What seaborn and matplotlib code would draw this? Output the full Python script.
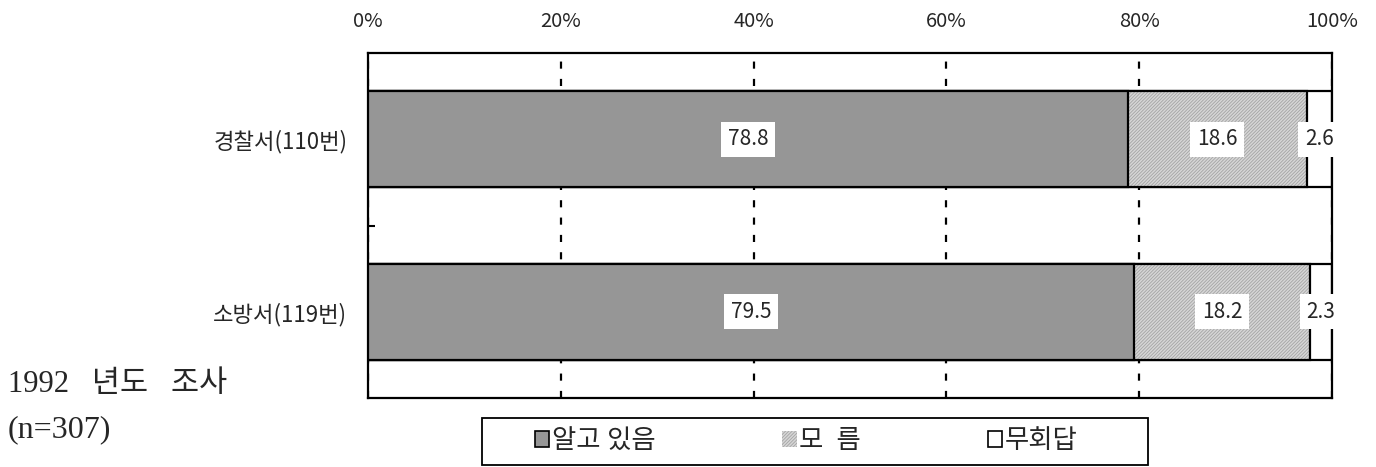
import numpy as np
import pandas as pd
import matplotlib
matplotlib.use("Agg")
import matplotlib.pyplot as plt
from matplotlib.patches import Patch, Rectangle
import seaborn as sns

# data
categories = ["경찰서(110번)", "소방서(119번)"]
know = [78.8, 79.5]
dont_know = [18.6, 18.2]
no_answer = [2.6, 2.3]
legend_labels = ["알고 있음", "모  름", "무회답"]
tick_labels = ["0%", "20%", "40%", "60%", "80%", "100%"]

sns.set_theme(style="white")
plt.rcParams["font.family"] = ["Noto Sans CJK KR", "DejaVu Sans"]
plt.rcParams["hatch.linewidth"] = 0.6

df = pd.DataFrame({"cat": categories, "know": know,
                   "dont": dont_know, "none": no_answer})
df["c1"] = df["know"]
df["c2"] = df["know"] + df["dont"]
df["c3"] = df["c2"] + df["none"]

fig = plt.figure(figsize=(13.76, 4.67), dpi=100)
ax = fig.add_axes([368 / 1376, 1 - 398 / 467, 964 / 1376, 345 / 467])

dark = "#969696"
light = "#d6d6d6"
hatch_col = "#a4a4a4"
bw = 0.555
lw = 1.6

# stacked by drawing cumulative bars back to front
sns.barplot(data=df, x="c3", y="cat", orient="h", color="white", saturation=1,
            width=bw, edgecolor="black", linewidth=lw, ax=ax, zorder=2)
sns.barplot(data=df, x="c2", y="cat", orient="h", color=light, saturation=1,
            width=bw, edgecolor=hatch_col, linewidth=0, hatch="//////////",
            ax=ax, zorder=3)
sns.barplot(data=df, x="c2", y="cat", orient="h", fill=False, color="black",
            width=bw, linewidth=lw, ax=ax, zorder=4)
sns.barplot(data=df, x="c1", y="cat", orient="h", color=dark, saturation=1,
            width=bw, edgecolor="black", linewidth=lw, ax=ax, zorder=5)

# value labels
box = dict(boxstyle="square,pad=0.32", facecolor="white", edgecolor="none")
for i, row in df.iterrows():
    segs = [(0, row["know"]), (row["c1"], row["dont"]), (row["c2"], row["none"])]
    for left, w in segs:
        ax.text(left + w / 2, i, f"{w:.1f}", ha="center", va="center",
                fontsize=15, bbox=box, zorder=10)

ax.set_xlim(0, 100)
ax.set_ylim(1.5, -0.5)
ax.set_xlabel("")
ax.set_ylabel("")

ax.xaxis.tick_top()
ax.set_xticks([0, 20, 40, 60, 80, 100])
ax.set_xticklabels(tick_labels, fontsize=14.5)
ax.tick_params(axis="x", length=0, pad=15)
ax.xaxis.grid(True, color="black", linewidth=1.6, linestyle=(0, (3.2, 4.6)))
ax.set_axisbelow(True)

ax.set_yticks([0, 1])
ax.set_yticklabels(categories, fontsize=16)
ax.tick_params(axis="y", length=0, pad=15)
ax.set_yticks([0.5], minor=True)
ax.tick_params(axis="y", which="minor", direction="in", length=5, width=1.5,
               color="black", left=True)

for s in ax.spines.values():
    s.set_visible(True)
    s.set_color("black")
    s.set_linewidth(1.6)

# side note
serif = ["Liberation Serif", "Noto Sans CJK KR"]
fig.text(8 / 1376, 1 - 385 / 467, "1992   년도   조사", family=serif,
         fontsize=22, va="center", ha="left")
fig.text(8 / 1376, 1 - 430 / 467, "(n=307)", family=serif,
         fontsize=23, va="center", ha="left")

# legend with a hand-placed frame
fig.patches.append(Rectangle((482 / 1376, 1 - 465 / 467), 666 / 1376, 47 / 467,
                             transform=fig.transFigure, facecolor="white",
                             edgecolor="black", linewidth=1.3, zorder=0))
handles = [Patch(facecolor=dark, edgecolor="black", linewidth=1.2),
           Patch(facecolor=light, edgecolor=hatch_col, hatch="//////////",
                 linewidth=0),
           Patch(facecolor="white", edgecolor="black", linewidth=1.2)]
leg = fig.legend(handles, legend_labels, ncol=3, loc="center",
                 bbox_to_anchor=(806 / 1376, 1 - 441 / 467),
                 fontsize=19, frameon=False,
                 handlelength=0.55, handleheight=0.55, handletextpad=0.1,
                 columnspacing=4.8, borderpad=0.2)
for t in leg.get_texts():
    t.set_family(serif)

fig.savefig("out.png", dpi=100)
